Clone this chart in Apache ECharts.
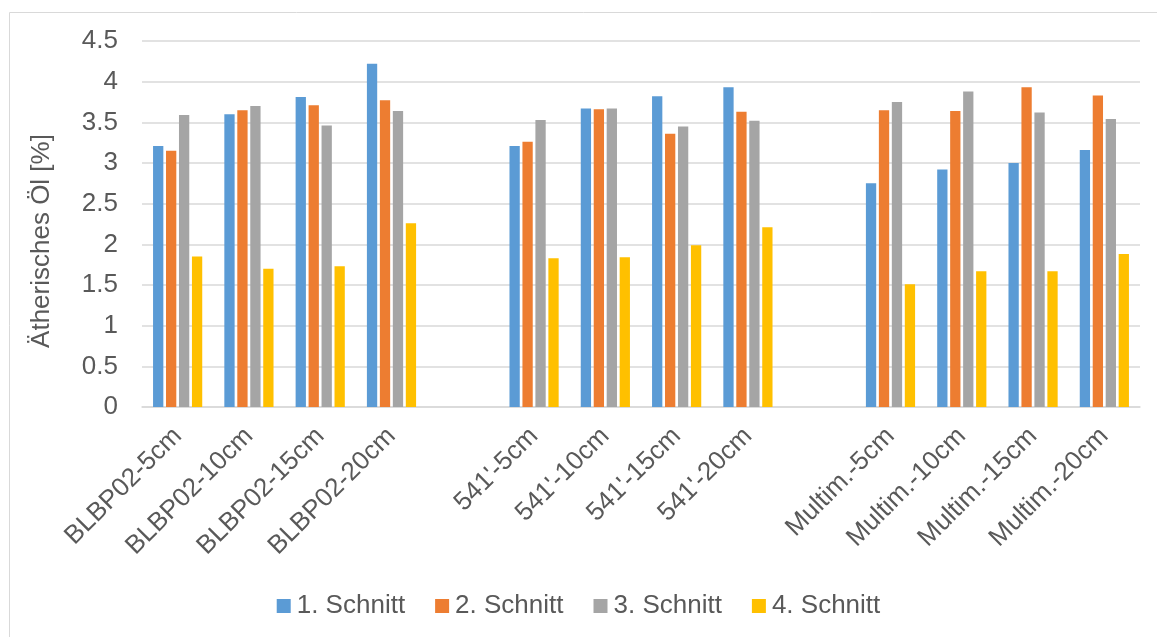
<!DOCTYPE html>
<html>
<head>
<meta charset="utf-8">
<script src="https://cdn.jsdelivr.net/npm/echarts@6/dist/echarts.min.js"></script>
<style>
  html, body { margin: 0; padding: 0; background: #fff; }
  #chart { width: 1157px; height: 637px; }
</style>
</head>
<body>
<div id="chart"></div>
<script>
// Sample categories; empty strings leave a gap between the three varieties
const categories = [
  'BLBP02-5cm', 'BLBP02-10cm', 'BLBP02-15cm', 'BLBP02-20cm', '',
  "541'-5cm", "541'-10cm", "541'-15cm", "541'-20cm", '',
  'Multim.-5cm', 'Multim.-10cm', 'Multim.-15cm', 'Multim.-20cm'
];
const seriesNames = ['1. Schnitt', '2. Schnitt', '3. Schnitt', '4. Schnitt'];

// Essential oil content [%] per harvest cut
const schnitt1 = [3.21, 3.60, 3.81, 4.22, null, 3.21, 3.67, 3.82, 3.93, null, 2.75, 2.92, 3.00, 3.16];
const schnitt2 = [3.15, 3.65, 3.71, 3.77, null, 3.26, 3.66, 3.36, 3.63, null, 3.65, 3.64, 3.93, 3.83];
const schnitt3 = [3.59, 3.70, 3.46, 3.64, null, 3.53, 3.67, 3.45, 3.52, null, 3.75, 3.88, 3.62, 3.54];
const schnitt4 = [1.85, 1.70, 1.73, 2.26, null, 1.83, 1.84, 1.99, 2.21, null, 1.51, 1.67, 1.67, 1.88];

const colors = ['#5B9BD5', '#ED7D31', '#A5A5A5', '#FFC000'];
const textColor = '#595959';
const font = 'Arial, "Liberation Sans", sans-serif';
const fontSize = 26;

const chart = echarts.init(document.getElementById('chart'), null, { renderer: 'canvas' });

const values = [schnitt1, schnitt2, schnitt3, schnitt4];

chart.setOption({
  animation: false,
  color: colors,
  textStyle: { fontFamily: font },
  graphic: [{
    type: 'rect',
    shape: { x: 9.5, y: 12.5, width: 1200, height: 700 },
    style: { fill: 'none', stroke: '#D9D9D9', lineWidth: 1 },
    silent: true
  }],
  grid: { left: 142, right: 17, top: 41, bottom: 230, containLabel: false },
  legend: {
    top: 588,
    left: 'center',
    itemWidth: 14,
    itemHeight: 14,
    itemGap: 30,
    icon: 'rect',
    textStyle: { color: textColor, fontSize: fontSize, fontFamily: font, padding: [0, 0, 0, 1] },
    data: seriesNames
  },
  xAxis: {
    type: 'category',
    data: categories,
    axisLine: { lineStyle: { color: '#D9D9D9', width: 1.5 } },
    axisTick: { show: false },
    axisLabel: {
      interval: 0,
      rotate: 45,
      color: textColor,
      fontSize: fontSize,
      fontFamily: font,
      margin: 25
    }
  },
  yAxis: {
    type: 'value',
    min: 0,
    max: 4.5,
    interval: 0.5,
    name: 'Ätherisches Öl [%]',
    nameLocation: 'middle',
    nameRotate: 90,
    nameGap: 87,
    nameTextStyle: { color: textColor, fontSize: fontSize, fontFamily: font, padding: [0, 34, 0, 0] },
    axisLine: { show: false },
    axisTick: { show: false },
    splitLine: { lineStyle: { color: '#D9D9D9', width: 1.5 } },
    axisLabel: { color: textColor, fontSize: fontSize, fontFamily: font, margin: 24 }
  },
  series: seriesNames.map((name, i) => ({
    name: name,
    type: 'bar',
    data: values[i],
    barGap: '26%',
    barCategoryGap: '31%',
    itemStyle: { color: colors[i] }
  }))
});
</script>
</body>
</html>
